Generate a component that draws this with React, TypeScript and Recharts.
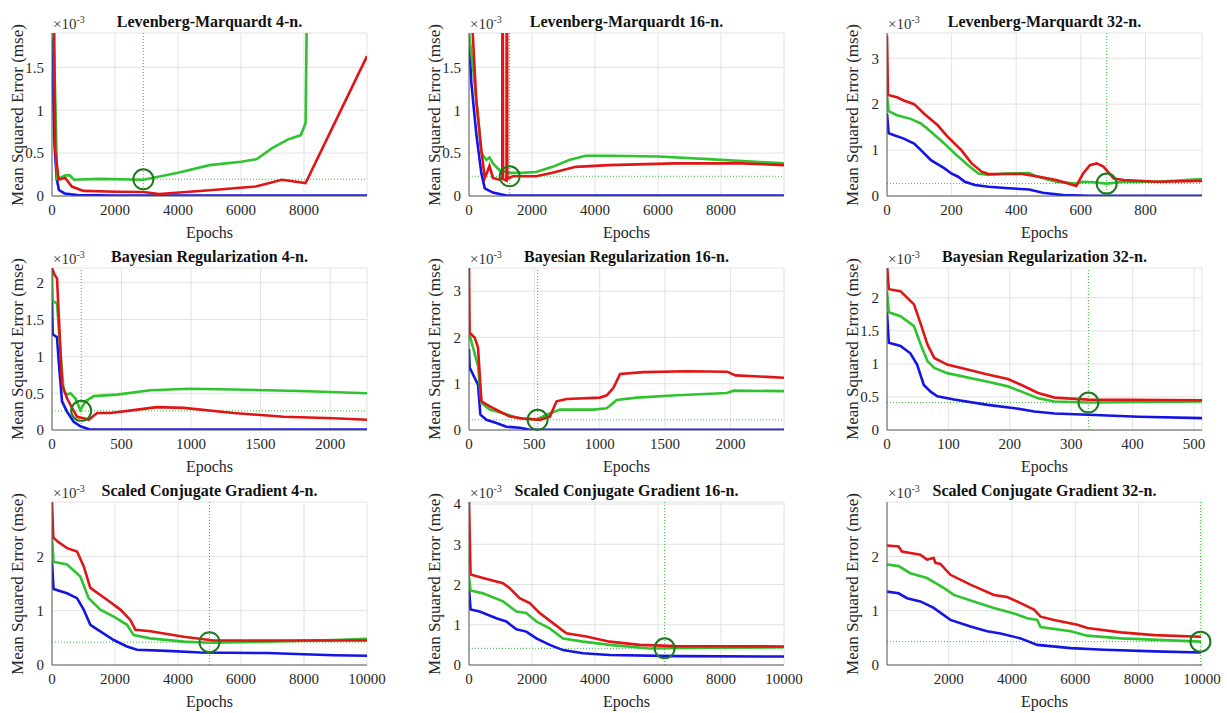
import React from "react";
import {
  LineChart,
  Line,
  XAxis,
  YAxis,
  CartesianGrid,
  ReferenceLine,
  ReferenceDot,
} from "recharts";

type Pt = [number, number];

// ---- Levenberg-Marquardt ----
const LM4_BLUE: Pt[] = [[0, 1.85], [30, 1.35], [80, 0.6], [150, 0.2], [220, 0.07], [400, 0.03], [800, 0.01], [2000, 0.005], [9999, 0.005]];
const LM4_GREEN: Pt[] = [[0, 2.6], [100, 1.2], [160, 0.2], [300, 0.22], [420, 0.24], [560, 0.24], [700, 0.19], [1500, 0.2], [2900, 0.19], [4000, 0.27], [5000, 0.36], [6000, 0.4], [6500, 0.43], [7000, 0.56], [7500, 0.66], [7900, 0.71], [8050, 0.85], [8100, 2.5]];
const LM4_RED: Pt[] = [[0, 2.6], [60, 2.3], [100, 0.54], [210, 0.19], [300, 0.2], [420, 0.21], [630, 0.11], [1000, 0.06], [2050, 0.05], [2900, 0.047], [3400, 0.023], [4050, 0.04], [5100, 0.07], [6470, 0.11], [7300, 0.19], [8050, 0.15], [9999, 1.63]];

const LM16_BLUE: Pt[] = [[0, 1.85], [74, 1.32], [230, 0.73], [390, 0.27], [500, 0.09], [760, 0.04], [1180, 0.005], [9999, 0.005]];
const LM16_GREEN: Pt[] = [[0, 1.9], [126, 1.5], [285, 0.93], [390, 0.5], [550, 0.42], [650, 0.45], [760, 0.38], [970, 0.3], [1280, 0.27], [1700, 0.27], [2130, 0.28], [2650, 0.34], [3180, 0.42], [3700, 0.47], [4440, 0.47], [6020, 0.46], [7600, 0.43], [9999, 0.38]];
const LM16_RED: Pt[] = [[0, 2.6], [74, 2.2], [230, 1.12], [390, 0.54], [500, 0.21], [600, 0.3], [650, 0.35], [760, 0.21], [970, 0.19], [1055, 0.2], [1062, 3], [1072, 3], [1080, 0.2], [1190, 0.18], [1197, 3], [1207, 3], [1215, 0.2], [1390, 0.23], [2130, 0.23], [2650, 0.27], [3390, 0.34], [4440, 0.36], [6550, 0.38], [8650, 0.38], [9999, 0.36]];

const LM32_BLUE: Pt[] = [[0, 1.8], [5, 1.37], [20, 1.33], [52, 1.25], [84, 1.14], [105, 1.0], [136, 0.78], [178, 0.6], [199, 0.49], [220, 0.42], [241, 0.31], [272, 0.24], [314, 0.2], [377, 0.17], [440, 0.14], [482, 0.07], [545, 0.02], [628, 0.005], [975, 0.005]];
const LM32_GREEN: Pt[] = [[0, 2.2], [5, 1.85], [31, 1.76], [73, 1.68], [105, 1.58], [136, 1.4], [178, 1.14], [209, 0.93], [251, 0.67], [283, 0.49], [314, 0.46], [366, 0.49], [440, 0.5], [461, 0.43], [524, 0.31], [586, 0.27], [607, 0.31], [640, 0.3], [680, 0.27], [733, 0.31], [838, 0.31], [975, 0.37]];
const LM32_RED: Pt[] = [[0, 3.5], [3, 2.2], [31, 2.15], [52, 2.08], [84, 2.0], [115, 1.79], [157, 1.54], [188, 1.29], [230, 1.0], [262, 0.71], [293, 0.53], [314, 0.48], [419, 0.48], [471, 0.42], [524, 0.35], [586, 0.22], [607, 0.49], [628, 0.67], [649, 0.71], [670, 0.64], [702, 0.38], [733, 0.35], [838, 0.31], [975, 0.33]];

// ---- Bayesian Regularization ----
const BR4_BLUE: Pt[] = [[0, 1.78], [5, 1.3], [36, 1.26], [48, 0.94], [72, 0.39], [108, 0.25], [156, 0.11], [204, 0.05], [276, 0.005], [2265, 0.005]];
const BR4_GREEN: Pt[] = [[0, 2.15], [5, 1.75], [36, 1.72], [60, 1.08], [84, 0.53], [108, 0.48], [132, 0.5], [168, 0.43], [204, 0.27], [240, 0.39], [300, 0.46], [468, 0.48], [707, 0.54], [994, 0.56], [1306, 0.55], [1786, 0.53], [2265, 0.5]];
const BR4_RED: Pt[] = [[0, 2.2], [20, 2.1], [36, 2.06], [55, 1.3], [72, 0.62], [108, 0.43], [144, 0.3], [180, 0.18], [228, 0.16], [264, 0.14], [324, 0.23], [420, 0.23], [587, 0.27], [755, 0.31], [947, 0.3], [1306, 0.23], [1666, 0.18], [2025, 0.16], [2265, 0.14]];

const BR16_BLUE: Pt[] = [[0, 1.75], [5, 1.35], [43, 1.13], [69, 0.98], [87, 0.33], [133, 0.22], [210, 0.15], [286, 0.07], [389, 0.05], [465, 0.005], [2410, 0.005]];
const BR16_GREEN: Pt[] = [[0, 2.1], [31, 1.78], [69, 1.38], [95, 0.58], [159, 0.44], [261, 0.36], [389, 0.25], [517, 0.23], [593, 0.33], [696, 0.44], [951, 0.44], [1054, 0.47], [1130, 0.65], [1284, 0.7], [1590, 0.75], [1974, 0.8], [2025, 0.85], [2410, 0.84]];
const BR16_RED: Pt[] = [[0, 3.5], [5, 2.1], [43, 2.0], [69, 1.78], [95, 0.62], [159, 0.51], [235, 0.4], [312, 0.29], [414, 0.25], [542, 0.22], [619, 0.29], [670, 0.62], [747, 0.67], [1003, 0.7], [1054, 0.75], [1105, 0.91], [1156, 1.21], [1335, 1.25], [1667, 1.27], [1974, 1.26], [2038, 1.18], [2410, 1.13]];

const BR32_BLUE: Pt[] = [[0, 1.78], [3, 1.32], [22, 1.27], [38, 1.16], [49, 0.99], [60, 0.68], [71, 0.58], [82, 0.51], [109, 0.46], [164, 0.38], [208, 0.33], [240, 0.28], [273, 0.25], [328, 0.23], [410, 0.2], [513, 0.18]];
const BR32_GREEN: Pt[] = [[0, 2.1], [3, 1.78], [22, 1.72], [44, 1.57], [55, 1.29], [66, 1.04], [77, 0.94], [98, 0.86], [164, 0.73], [197, 0.66], [219, 0.58], [246, 0.48], [273, 0.43], [328, 0.415], [513, 0.43]];
const BR32_RED: Pt[] = [[0, 2.5], [3, 2.13], [22, 2.1], [44, 1.9], [55, 1.6], [66, 1.29], [77, 1.09], [98, 0.99], [164, 0.84], [197, 0.77], [219, 0.68], [246, 0.56], [273, 0.49], [328, 0.46], [513, 0.45]];

// ---- Scaled Conjugate Gradient ----
const SCG4_BLUE: Pt[] = [[0, 1.9], [50, 1.4], [476, 1.32], [794, 1.23], [1005, 1.02], [1217, 0.74], [1534, 0.62], [1958, 0.46], [2381, 0.34], [2698, 0.28], [3651, 0.26], [4709, 0.23], [6825, 0.22], [8942, 0.18], [10000, 0.17]];
const SCG4_GREEN: Pt[] = [[0, 2.35], [50, 1.9], [476, 1.85], [899, 1.63], [1164, 1.23], [1534, 1.02], [1958, 0.89], [2381, 0.74], [2593, 0.55], [3122, 0.49], [4180, 0.43], [5026, 0.41], [6825, 0.43], [8942, 0.46], [10000, 0.48]];
const SCG4_RED: Pt[] = [[0, 3.0], [40, 2.35], [159, 2.28], [476, 2.15], [794, 2.09], [1005, 1.82], [1217, 1.42], [1746, 1.2], [2169, 1.02], [2487, 0.83], [2646, 0.65], [3122, 0.62], [4180, 0.52], [5132, 0.45], [6825, 0.45], [10000, 0.45]];

const SCG16_BLUE: Pt[] = [[0, 1.9], [50, 1.38], [337, 1.33], [867, 1.16], [1185, 1.08], [1503, 0.89], [1820, 0.83], [2138, 0.66], [2561, 0.5], [2984, 0.37], [3619, 0.29], [4466, 0.25], [6582, 0.22], [10000, 0.21]];
const SCG16_GREEN: Pt[] = [[0, 2.2], [50, 1.85], [444, 1.78], [1079, 1.58], [1503, 1.33], [1820, 1.29], [2138, 1.08], [2561, 0.91], [2984, 0.66], [3619, 0.58], [4466, 0.5], [5737, 0.41], [7640, 0.43], [10000, 0.44]];
const SCG16_RED: Pt[] = [[0, 4.05], [50, 2.25], [444, 2.16], [1079, 2.03], [1291, 1.91], [1609, 1.66], [1926, 1.54], [2243, 1.29], [2667, 1.04], [3090, 0.79], [3725, 0.71], [4466, 0.58], [5419, 0.5], [6582, 0.47], [10000, 0.46]];

const SCG32_BLUE: Pt[] = [[50, 1.35], [417, 1.32], [681, 1.23], [1103, 1.17], [1525, 1.05], [2053, 0.83], [2686, 0.71], [3214, 0.62], [3636, 0.58], [4269, 0.49], [4797, 0.37], [5852, 0.31], [6907, 0.28], [8491, 0.25], [9968, 0.23]];
const SCG32_GREEN: Pt[] = [[50, 1.85], [417, 1.82], [786, 1.69], [1314, 1.6], [1842, 1.42], [2158, 1.29], [2791, 1.17], [3425, 1.05], [4058, 0.95], [4480, 0.86], [4797, 0.83], [4900, 0.7], [5852, 0.62], [6380, 0.54], [7435, 0.49], [9968, 0.43]];
const SCG32_RED: Pt[] = [[50, 2.2], [417, 2.18], [522, 2.09], [1103, 2.03], [1314, 1.94], [1525, 1.97], [1578, 1.88], [1736, 1.86], [2053, 1.66], [2686, 1.48], [3425, 1.29], [3847, 1.25], [4269, 1.14], [4691, 1.02], [4902, 0.89], [5325, 0.83], [6064, 0.74], [6380, 0.68], [7435, 0.6], [8491, 0.55], [9968, 0.52]];

// axis ticks
const TICKS_0_8000 = [0, 2000, 4000, 6000, 8000];
const TICKS_0_10000 = [0, 2000, 4000, 6000, 8000, 10000];
const TICKS_2000_10000 = [2000, 4000, 6000, 8000, 10000];
const TICKS_0_800 = [0, 200, 400, 600, 800];
const TICKS_0_2000 = [0, 500, 1000, 1500, 2000];
const TICKS_0_500 = [0, 100, 200, 300, 400, 500];
const Y_HALF_15 = [0, 0.5, 1, 1.5];
const Y_HALF_2 = [0, 0.5, 1, 1.5, 2];
const Y_INT_2 = [0, 1, 2];
const Y_INT_3 = [0, 1, 2, 3];
const Y_INT_4 = [0, 1, 2, 3, 4];

const BLUE = "#1414e6";
const GREEN = "#2fc42f";
const RED = "#e01616";
const BEST = "#1d7a1d";
const FONT = "Liberation Serif, Tinos, DejaVu Serif, Times New Roman, serif";

interface PanelCfg {
  title: string;
  xDomain: [number, number];
  xTicks: number[];
  yDomain: [number, number];
  yTicks: number[];
  best: [number, number];
  blue: Pt[];
  green: Pt[];
  red: Pt[];
}

const PANELS: PanelCfg[] = [
  { title: "Levenberg-Marquardt 4-n.", xDomain: [0, 9999], xTicks: TICKS_0_8000, yDomain: [0, 1.9], yTicks: Y_HALF_15, best: [2900, 0.195], blue: LM4_BLUE, green: LM4_GREEN, red: LM4_RED },
  { title: "Levenberg-Marquardt 16-n.", xDomain: [0, 9999], xTicks: TICKS_0_8000, yDomain: [0, 1.9], yTicks: Y_HALF_15, best: [1290, 0.23], blue: LM16_BLUE, green: LM16_GREEN, red: LM16_RED },
  { title: "Levenberg-Marquardt 32-n.", xDomain: [0, 975], xTicks: TICKS_0_800, yDomain: [0, 3.55], yTicks: Y_INT_3, best: [680, 0.27], blue: LM32_BLUE, green: LM32_GREEN, red: LM32_RED },
  { title: "Bayesian Regularization 4-n.", xDomain: [0, 2265], xTicks: TICKS_0_2000, yDomain: [0, 2.2], yTicks: Y_HALF_2, best: [210, 0.26], blue: BR4_BLUE, green: BR4_GREEN, red: BR4_RED },
  { title: "Bayesian Regularization 16-n.", xDomain: [0, 2410], xTicks: TICKS_0_2000, yDomain: [0, 3.5], yTicks: Y_INT_3, best: [525, 0.22], blue: BR16_BLUE, green: BR16_GREEN, red: BR16_RED },
  { title: "Bayesian Regularization 32-n.", xDomain: [0, 513], xTicks: TICKS_0_500, yDomain: [0, 2.45], yTicks: Y_HALF_2, best: [328, 0.415], blue: BR32_BLUE, green: BR32_GREEN, red: BR32_RED },
  { title: "Scaled Conjugate Gradient 4-n.", xDomain: [0, 10000], xTicks: TICKS_0_10000, yDomain: [0, 3], yTicks: Y_INT_2, best: [5000, 0.42], blue: SCG4_BLUE, green: SCG4_GREEN, red: SCG4_RED },
  { title: "Scaled Conjugate Gradient 16-n.", xDomain: [0, 10000], xTicks: TICKS_0_10000, yDomain: [0, 4.05], yTicks: Y_INT_4, best: [6210, 0.415], blue: SCG16_BLUE, green: SCG16_GREEN, red: SCG16_RED },
  { title: "Scaled Conjugate Gradient 32-n.", xDomain: [50, 10000], xTicks: TICKS_2000_10000, yDomain: [0, 3], yTicks: Y_INT_2, best: [9950, 0.43], blue: SCG32_BLUE, green: SCG32_GREEN, red: SCG32_RED },
];

const PLOT_W = 315;
const COL_LEFT = [52, 469, 887];
const ROW_TOP = [33, 268, 502];
const ROW_H = [163, 162, 163];
const LEFT_PAD = 52;
const TOP_PAD = 33;
const RIGHT_PAD = 20;
const X_AXIS_H = 30;
const BOTTOM_PAD = 9;

const toXY = (pts: Pt[]) => pts.map(([x, y]) => ({ x, y }));

function Panel({ cfg, plotLeft, plotTop, plotH }: { cfg: PanelCfg; plotLeft: number; plotTop: number; plotH: number }) {
  const w = LEFT_PAD + PLOT_W + RIGHT_PAD;
  const h = TOP_PAD + plotH + X_AXIS_H + BOTTOM_PAD;
  const tick = { fontFamily: FONT, fontSize: 15, fill: "#262626" };
  return (
    <div style={{ position: "absolute", left: plotLeft - LEFT_PAD, top: plotTop - TOP_PAD, width: w, height: h, fontFamily: FONT }}>
      <LineChart width={w} height={h} margin={{ top: TOP_PAD, right: RIGHT_PAD, bottom: BOTTOM_PAD, left: 0 }} style={{ fontFamily: FONT }}>
        <CartesianGrid stroke="#e2e2e2" />
        <XAxis
          type="number"
          dataKey="x"
          domain={cfg.xDomain}
          ticks={cfg.xTicks}
          interval={0}
          allowDataOverflow
          height={X_AXIS_H}
          tickLine={false}
          axisLine={{ stroke: "#5a5a5a" }}
          tick={tick}
        />
        <YAxis
          type="number"
          domain={cfg.yDomain}
          ticks={cfg.yTicks}
          interval={0}
          allowDataOverflow
          width={LEFT_PAD}
          tickLine={false}
          axisLine={{ stroke: "#5a5a5a" }}
          tick={tick}
        />
        <ReferenceLine x={cfg.best[0]} stroke={GREEN} strokeWidth={1} strokeDasharray="1 2" />
        <ReferenceLine y={cfg.best[1]} stroke={GREEN} strokeWidth={1} strokeDasharray="1 2" />
        <Line data={toXY(cfg.blue)} dataKey="y" stroke={BLUE} strokeWidth={2.6} dot={false} isAnimationActive={false} />
        <Line data={toXY(cfg.green)} dataKey="y" stroke={GREEN} strokeWidth={2.6} dot={false} isAnimationActive={false} />
        <Line data={toXY(cfg.red)} dataKey="y" stroke={RED} strokeWidth={2.6} dot={false} isAnimationActive={false} />
        <ReferenceDot x={cfg.best[0]} y={cfg.best[1]} r={10} fill="none" stroke={BEST} strokeWidth={2} />
      </LineChart>

      <div style={{ position: "absolute", left: LEFT_PAD, top: 12, width: PLOT_W, textAlign: "center", fontWeight: "bold", fontSize: 16, lineHeight: "20px", color: "#111", whiteSpace: "nowrap" }}>
        {cfg.title}
      </div>
      <div style={{ position: "absolute", left: LEFT_PAD + 1, top: 11, fontSize: 15, lineHeight: "18px", color: "#333", whiteSpace: "nowrap" }}>
        ×10<sup style={{ fontSize: 10 }}>-3</sup>
      </div>
      <div style={{ position: "absolute", left: 18, top: TOP_PAD + plotH / 2, transform: "translate(-50%, -50%) rotate(-90deg)", fontSize: 17, lineHeight: "20px", color: "#262626", whiteSpace: "nowrap" }}>
        Mean Squared Error (mse)
      </div>
      <div style={{ position: "absolute", left: LEFT_PAD, top: TOP_PAD + plotH + 28, width: PLOT_W, textAlign: "center", fontSize: 16, lineHeight: "18px", color: "#262626" }}>
        Epochs
      </div>
    </div>
  );
}

export default function App() {
  return (
    <div style={{ position: "absolute", left: 0, top: 0, width: 1227, height: 713, background: "#fff", overflow: "hidden" }}>
      {PANELS.map((cfg, i) => (
        <Panel
          key={cfg.title}
          cfg={cfg}
          plotLeft={COL_LEFT[i % 3]}
          plotTop={ROW_TOP[Math.floor(i / 3)]}
          plotH={ROW_H[Math.floor(i / 3)]}
        />
      ))}
    </div>
  );
}
